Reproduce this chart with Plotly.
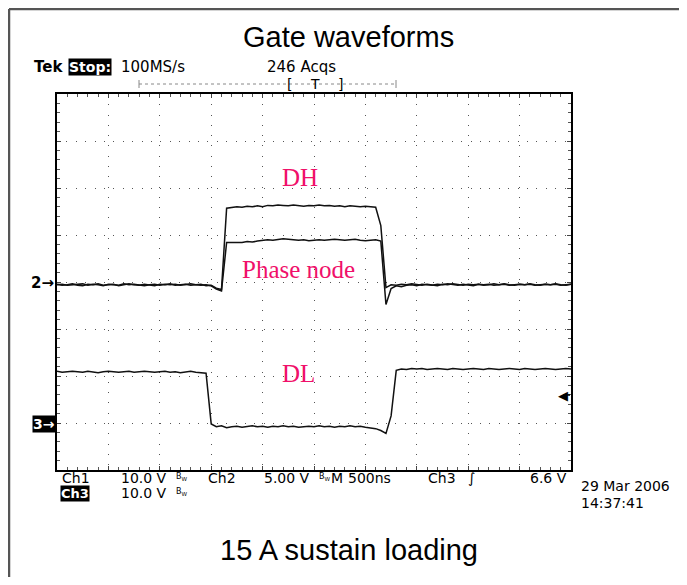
import plotly.graph_objects as go

# ---------------- data (screen divisions, 8 vertical divs; time in ns) ----------------
time_ns = list(range(-2500, 2501, 50))

dh_div = [
    -0.05, -0.07, -0.06, -0.04, -0.07, -0.08, -0.05, -0.06, -0.04, -0.07,
    -0.06, -0.05, -0.08, -0.06, -0.04, -0.06, -0.07, -0.05, -0.06, -0.08,
    -0.05, -0.06, -0.04, -0.07, -0.06, -0.05, -0.07, -0.06, -0.05, -0.08,
    -0.07, -0.13, -0.16, 1.57,
    1.59, 1.60, 1.59, 1.61, 1.60, 1.62, 1.60, 1.63, 1.62, 1.64,
    1.63, 1.62, 1.64, 1.63, 1.61, 1.63, 1.62, 1.64, 1.62, 1.63,
    1.61, 1.62, 1.60, 1.62, 1.61, 1.60, 1.61, 1.60, 1.59,
    1.20, -0.12, -0.06,
    -0.07, -0.05, -0.06, -0.04, -0.06, -0.07, -0.05, -0.06, -0.08, -0.05,
    -0.06, -0.04, -0.06, -0.07, -0.05, -0.06, -0.05, -0.07, -0.06, -0.04,
    -0.06, -0.05, -0.07, -0.06, -0.05, -0.06, -0.04, -0.06, -0.07, -0.05,
    -0.06, -0.05, -0.07, -0.06, -0.05,
]

phase_div = [
    -0.06, -0.05, -0.07, -0.06, -0.05, -0.04, -0.07, -0.05, -0.06, -0.08,
    -0.05, -0.06, -0.07, -0.04, -0.06, -0.05, -0.06, -0.08, -0.06, -0.05,
    -0.07, -0.05, -0.06, -0.05, -0.07, -0.06, -0.04, -0.06, -0.07, -0.06,
    -0.08, -0.15, -0.19, 0.84,
    0.84, 0.85, 0.84, 0.86, 0.85, 0.87, 0.88, 0.90, 0.89, 0.91,
    0.92, 0.91, 0.90, 0.89, 0.90, 0.88, 0.89, 0.90, 0.89, 0.90,
    0.91, 0.90, 0.89, 0.90, 0.91, 0.89, 0.88, 0.89, 0.90,
    0.87, -0.48, -0.14,
    -0.08, -0.10, -0.07, -0.06, -0.08, -0.05, -0.06, -0.07, -0.05, -0.06,
    -0.04, -0.06, -0.07, -0.05, -0.06, -0.08, -0.05, -0.06, -0.05, -0.07,
    -0.06, -0.04, -0.06, -0.07, -0.05, -0.06, -0.05, -0.07, -0.06, -0.05,
    -0.06, -0.04, -0.06, -0.07, -0.05,
]

dl_div = [
    -1.90, -1.92, -1.91, -1.90, -1.91, -1.92, -1.90, -1.91, -1.93, -1.91,
    -1.90, -1.91, -1.92, -1.91, -1.90, -1.92, -1.91, -1.90, -1.91, -1.92,
    -1.91, -1.90, -1.92, -1.91, -1.93, -1.91, -1.90, -1.92, -1.93,
    -1.94, -3.02,
    -3.08, -3.06, -3.10, -3.08, -3.07, -3.09, -3.07, -3.06, -3.08, -3.07,
    -3.09, -3.07, -3.08, -3.06, -3.08, -3.07, -3.09, -3.08, -3.07, -3.08,
    -3.06, -3.08, -3.07, -3.09, -3.07, -3.08, -3.06, -3.08, -3.07, -3.09,
    -3.10, -3.12, -3.16,
    -3.22, -2.85, -1.88,
    -1.85, -1.86, -1.84, -1.85, -1.84, -1.86, -1.85, -1.84, -1.85, -1.86,
    -1.84, -1.85, -1.86, -1.85, -1.84, -1.85, -1.86, -1.84, -1.85, -1.86,
    -1.85, -1.84, -1.85, -1.86, -1.84, -1.85, -1.86, -1.85, -1.84, -1.85,
    -1.86, -1.85, -1.84, -1.85,
]

assert len(dh_div) == len(time_ns) == len(phase_div) == len(dl_div)

# page geometry (the html body adds an 8 px margin on every side)
PAGE_W, PAGE_H, OFF = 687, 585, 8
W, H = PAGE_W - 2 * OFF, PAGE_H - 2 * OFF
L, R, T, B = 57, 571, 94, 470   # plot area in page pixels


def px(x):
    return (x - L) / (R - L)


def py(y):
    return (B - y) / (B - T)


SCOPE = "DejaVu Sans"
PINK = "#f0106a"

fig = go.Figure()
for ys in (dl_div, phase_div, dh_div):
    fig.add_trace(go.Scatter(x=time_ns, y=ys, mode="lines",
                             line=dict(color="#111111", width=1.5),
                             hoverinfo="skip", showlegend=False))

axis_common = dict(showticklabels=False, showgrid=True, gridcolor="#555555",
                   gridwidth=1, zeroline=False, showline=True, linecolor="black",
                   linewidth=2, mirror="allticks", ticks="inside", ticklen=4,
                   tickcolor="#444444", fixedrange=True)

fig.update_xaxes(range=[-2500, 2500], dtick=500, tick0=0, griddash="1px,9.28px",
                 minor=dict(dtick=100, ticks="inside", ticklen=3, tickcolor="#555555",
                            showgrid=False),
                 **axis_common)
fig.update_yaxes(range=[-4, 4], dtick=1, tick0=0, griddash="1px,8.4px",
                 minor=dict(dtick=0.2, ticks="inside", ticklen=3, tickcolor="#555555",
                            showgrid=False),
                 **axis_common)

ann = []


def text(x, y, s, size=15, color="black", family=SCOPE, xanchor="left", bg=None,
         ref="paper"):
    d = dict(x=px(x) if ref == "paper" else x, y=py(y) if ref == "paper" else y,
             xref=ref if ref == "paper" else "x", yref=ref if ref == "paper" else "y",
             text=s, showarrow=False, xanchor=xanchor,
             yanchor="middle", font=dict(size=size, color=color, family=family))
    if bg:
        d.update(bgcolor=bg, borderpad=0)
    ann.append(d)


# titles
text(348, 37, "Gate waveforms", size=29, family="Liberation Sans", xanchor="center")
text(349, 550, "15 A sustain loading", size=29, family="Liberation Sans", xanchor="center")

# header
text(32, 67, "<b>Tek</b>", size=15)
text(68, 67, "<b>Stop:</b>", size=14, color="white", bg="black")
text(119, 67, "100MS/s", size=15)
text(265, 67, "246 Acqs", size=15)
text(285, 84, "[", size=14)
text(308, 84, "T", size=14)
text(336, 84, "]", size=14)

# channel markers
text(56, 283, "<b>2→</b>", size=15, xanchor="right")
text(56, 424, "<b>3→</b>", size=14, color="white", bg="black", xanchor="right")
text(570, 395, "◀", size=13, xanchor="right")

# footer
row1, row2 = 478, 493
text(60, row1, "Ch1", size=14)
text(119, row1, "10.0 V", size=14)
text(174, row1 - 1, "B<sub>W</sub>", size=8)
text(206, row1, "Ch2", size=14)
text(262, row1, "5.00 V", size=14)
text(317, row1 - 1, "B<sub>W</sub>", size=8)
text(329, row1, "M", size=14)
text(346, row1, "500ns", size=14)
text(426, row1, "Ch3", size=14)
text(466, row1, "∫", size=14)
text(528, row1, "6.6 V", size=14)
text(60, row2, "<b>Ch3</b>", size=13, color="white", bg="black")
text(119, row2, "10.0 V", size=14)
text(174, row2 - 1, "B<sub>W</sub>", size=8)
text(579, 486, "29 Mar 2006", size=14)
text(579, 503, "14:37:41", size=14)

# waveform labels (data coordinates)
text(-140, 2.23, "DH", size=25, color=PINK, family="Liberation Serif", xanchor="center", ref="data")
text(-150, 0.26, "Phase node", size=25, color=PINK, family="Liberation Serif", xanchor="center", ref="data")
text(-150, -1.94, "DL", size=25, color=PINK, family="Liberation Serif", xanchor="center", ref="data")

shapes = [
    # outer frame (top and left)
    dict(type="line", xref="paper", yref="paper", x0=px(9), x1=px(OFF + W), y0=py(9), y1=py(9),
         line=dict(color="#555555", width=2.5)),
    dict(type="line", xref="paper", yref="paper", x0=px(9), x1=px(9), y0=py(9), y1=py(OFF + H),
         line=dict(color="#555555", width=2.5)),
    # record bar
    dict(type="line", xref="paper", yref="paper", x0=px(139), x1=px(396), y0=py(84), y1=py(84),
         line=dict(color="#888888", width=1, dash="dot")),
    dict(type="line", xref="paper", yref="paper", x0=px(139), x1=px(139), y0=py(80), y1=py(88),
         line=dict(color="#888888", width=1)),
    dict(type="line", xref="paper", yref="paper", x0=px(396), x1=px(396), y0=py(80), y1=py(88),
         line=dict(color="#888888", width=1)),
    # trigger level tail
    dict(type="line", xref="paper", yref="paper", x0=px(563), x1=px(570), y0=py(395), y1=py(395),
         line=dict(color="black", width=1.5)),
]

fig.update_layout(width=W, height=H,
                  margin=dict(l=L - OFF, r=(OFF + W) - R, t=T - OFF, b=(OFF + H) - B, pad=0),
                  paper_bgcolor="white", plot_bgcolor="white", showlegend=False,
                  annotations=ann, shapes=shapes)

fig.write_html("out.html")
